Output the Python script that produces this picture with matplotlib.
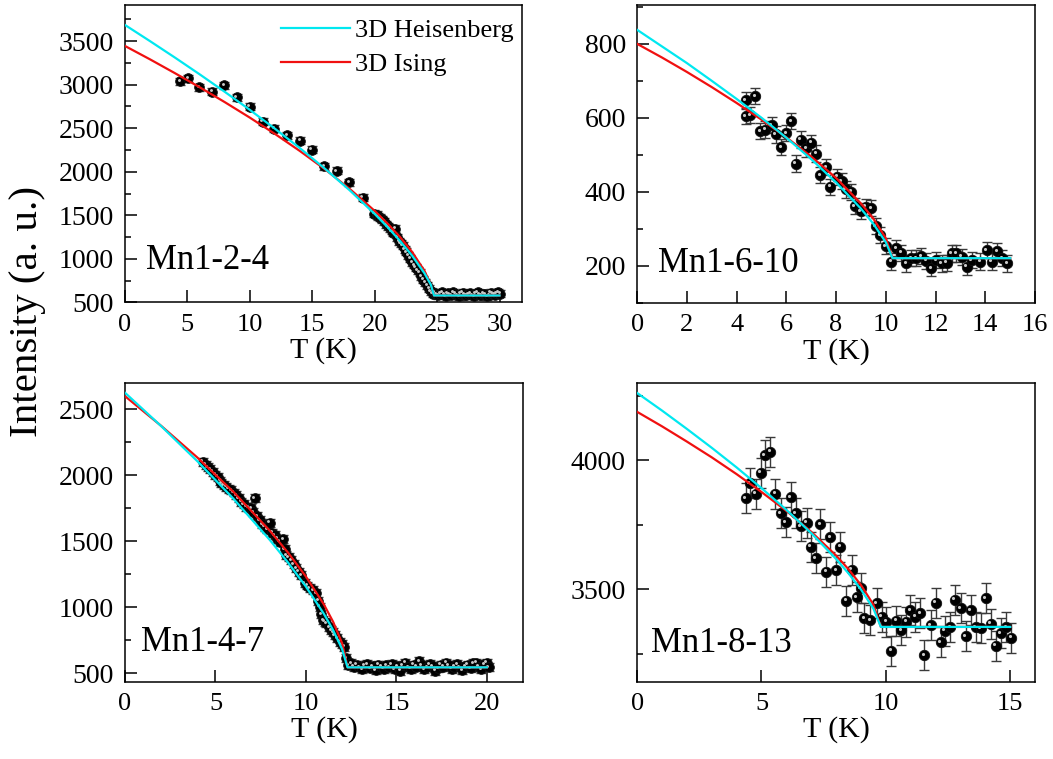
import matplotlib
matplotlib.use('Agg')
import matplotlib.pyplot as plt
from matplotlib.ticker import MultipleLocator, AutoMinorLocator
from matplotlib.transforms import offset_copy

plt.rcParams['font.family'] = ['Liberation Serif', 'DejaVu Serif']

# ---- Mn1-2-4 ----
t1 = [4.4, 5.05, 5.94, 6.98, 7.97, 8.94, 10.0, 11.03, 11.94, 13.0, 14.03, 14.96, 15.95, 16.97,
      17.94, 19.04, 19.98,
      20.15, 20.3, 20.45, 20.6, 20.75, 20.9, 21.05, 21.2, 21.35, 21.5, 21.65, 21.8, 21.95, 22.1,
      22.25, 22.4, 22.55, 22.7, 22.85, 23.0, 23.15, 23.3, 23.45, 23.6, 23.75, 23.9, 24.05, 24.2,
      24.35, 24.5, 24.65,
      24.8, 24.95, 25.1, 25.25, 25.4, 25.55, 25.7, 25.85, 26.0, 26.15, 26.3, 26.45, 26.6, 26.75,
      26.9, 27.05, 27.2, 27.35, 27.5, 27.65, 27.8, 27.95, 28.1, 28.25, 28.4, 28.55, 28.7, 28.85,
      29.0, 29.15, 29.3, 29.45, 29.6, 29.75, 29.9, 30.05]
i1 = [3040, 3071, 2968, 2917, 2994, 2853, 2745, 2573, 2496, 2420, 2354, 2255, 2063, 2009,
      1879, 1703, 1519,
      1505, 1490, 1470, 1455, 1430, 1400, 1375, 1350, 1320, 1300, 1345, 1250, 1200, 1180,
      1150, 1110, 1080, 1040, 1000, 960, 930, 900, 870, 840, 800, 760, 730, 695,
      660, 630, 600,
      610, 595, 585, 600, 620, 590, 575, 605, 595, 580, 615, 600, 585, 570,
      600, 610, 590, 580, 595, 605, 585, 575, 600, 615, 590, 580, 600, 595,
      570, 585, 610, 600, 590, 605, 620, 600]
err1 = 40
t1_heis = [0, 2, 4, 6, 8, 10, 12, 14, 16, 18, 20, 21, 22, 23, 24, 24.5, 24.75, 30]
i1_heis = [3684, 3499, 3310, 3116, 2916, 2710, 2495, 2272, 2037, 1787, 1516, 1369, 1212, 1037,
           833, 704, 580, 580]
t1_ising = [0, 2, 4, 6, 8, 10, 12, 14, 16, 18, 20, 21, 22, 23, 24, 24.5, 24.75, 30]
i1_ising = [3443, 3290, 3131, 2968, 2798, 2621, 2435, 2239, 2030, 1803, 1551, 1410, 1256, 1080,
            860, 704, 580, 580]

# ---- Mn1-6-10 ----
t2 = [4.37, 4.37, 4.55, 4.76, 4.96, 5.16, 5.41, 5.58, 5.79, 5.99, 6.19, 6.38, 6.58, 6.80, 7.00,
      7.20, 7.37, 7.61, 7.77, 8.04, 8.22, 8.38, 8.61, 8.75, 8.99, 9.19, 9.40, 9.60, 9.77, 10.0,
      10.21, 10.41, 10.61, 10.82, 11.02, 11.22, 11.42, 11.63, 11.83, 12.03, 12.24, 12.44, 12.64,
      12.84, 13.05, 13.25, 13.45, 13.79, 14.06, 14.26, 14.47, 14.67, 14.87]
i2 = [647, 604, 607, 659, 564, 568, 580, 555, 521, 559, 591, 476, 541, 517, 532,
      503, 445, 467, 413, 440, 429, 406, 400, 361, 348, 359, 355, 307, 283, 253,
      211, 247, 235, 206, 220, 220, 226, 213, 193, 215, 206, 208, 233,
      233, 224, 197, 215, 211, 242, 211, 239, 220, 206]
err2 = 22
t2_heis = [0, 1, 2, 3, 4, 5, 6, 7, 8, 9, 9.5, 10, 10.27, 15]
i2_heis = [838, 793, 748, 700, 651, 600, 546, 488, 425, 354, 313, 263, 220, 220]
t2_ising = [0, 1, 2, 3, 4, 5, 6, 7, 8, 9, 9.5, 10, 10.27, 15]
i2_ising = [800, 763, 724, 683, 640, 595, 547, 495, 437, 368, 327, 274, 220, 220]

# ---- Mn1-4-7 ----
t3 = [4.30, 4.45, 4.58, 4.72, 4.85, 5.0, 5.13, 5.25, 5.31, 5.45, 5.59, 5.73, 5.87, 6.0, 6.14,
      6.28, 6.42, 6.56, 6.70, 6.83, 6.97, 7.1, 7.16, 7.3, 7.44, 7.58, 7.72, 7.86, 7.99, 8.13,
      8.27, 8.41, 8.55, 8.73, 8.82, 8.92, 9.05, 9.19, 9.33, 9.47, 9.61, 9.75, 9.93, 10.07,
      10.21, 10.4, 10.58, 10.67, 10.76, 10.85, 10.95, 11.04, 11.13, 11.27, 11.41, 11.5, 11.6,
      11.73, 11.87, 12.0, 12.1, 12.24,
      12.35, 12.5, 12.65, 12.8, 12.95, 13.1, 13.25, 13.4, 13.55, 13.7, 13.85, 14.0, 14.15,
      14.3, 14.45, 14.6, 14.75, 14.9, 15.05, 15.2, 15.35, 15.5, 15.65, 15.8, 15.95, 16.1,
      16.25, 16.4, 16.55, 16.7, 16.85, 17.0, 17.15, 17.3, 17.45, 17.6, 17.75, 17.9, 18.05,
      18.2, 18.35, 18.5, 18.65, 18.8, 18.95, 19.1, 19.25, 19.4, 19.55, 19.7, 19.85, 20.0, 20.1]
i3 = [2103, 2080, 2061, 2045, 2027, 2005, 1990, 1960, 1939, 1925, 1914, 1900, 1889, 1870, 1851,
      1825, 1800, 1780, 1762, 1755, 1750, 1720, 1826, 1690, 1661, 1630, 1611, 1590, 1641, 1565,
      1548, 1520, 1497, 1515, 1440, 1396, 1380, 1358, 1325, 1295, 1270, 1245, 1182, 1165,
      1144, 1131, 1106, 1050, 1005, 950, 904, 890, 879, 850, 828, 810, 790,
      765, 740, 720, 702, 614,
      560, 575, 550, 565, 545, 530, 560, 570, 540, 555, 525, 565, 550,
      535, 560, 545, 570, 530, 555, 520, 560, 580, 545, 535, 565, 550,
      590, 560, 530, 545, 570, 555, 520, 540, 565, 550, 580, 560, 535,
      550, 570, 545, 525, 555, 565, 540, 575, 580, 550, 530, 570, 580, 545]
err3 = 30
t3_heis = [0, 2, 4, 6, 8, 9, 10, 11, 11.5, 12, 12.3, 20]
i3_heis = [2626, 2373, 2107, 1822, 1511, 1341, 1157, 949, 828, 683, 545, 545]
t3_ising = [0, 2, 4, 6, 8, 9, 10, 11, 11.5, 12, 12.3, 20]
i3_ising = [2600, 2375, 2135, 1874, 1581, 1416, 1233, 1020, 891, 728, 545, 545]

# ---- Mn1-8-13 ----
t4 = [4.37, 4.53, 4.77, 4.97, 5.13, 5.34, 5.56, 5.77, 5.98, 6.18, 6.37, 6.57, 6.82, 6.98, 7.18,
      7.36, 7.60, 7.76, 8.00, 8.16, 8.40, 8.63, 8.83, 8.99, 9.14, 9.37, 9.64, 9.84, 10.02,
      10.21, 10.41, 10.61, 10.81, 10.99, 11.19, 11.39, 11.55, 11.80, 12.00, 12.20, 12.36,
      12.58, 12.77, 13.01, 13.21, 13.41, 13.61, 13.82, 14.02, 14.22, 14.42, 14.62, 14.83, 15.03]
i4 = [3852, 3910, 3871, 3951, 4019, 4032, 3871, 3794, 3761, 3856, 3796, 3745, 3758, 3665, 3620,
      3753, 3568, 3703, 3575, 3665, 3456, 3577, 3471, 3504, 3388, 3381, 3446, 3394, 3375,
      3263, 3379, 3343, 3375, 3420, 3394, 3407, 3246, 3362, 3448, 3297, 3340,
      3355, 3461, 3427, 3319, 3420, 3355, 3349, 3465, 3368, 3282, 3330, 3355, 3314]
err4 = 58
t4_heis = [0, 1, 2, 3, 4, 5, 6, 7, 8, 8.5, 9, 9.5, 9.8, 15]
i4_heis = [4260, 4192, 4121, 4048, 3972, 3892, 3808, 3718, 3618, 3562, 3500, 3426, 3355, 3355]
t4_ising = [0, 1, 2, 3, 4, 5, 6, 7, 8, 8.5, 9, 9.5, 9.8, 15]
i4_ising = [4187, 4131, 4072, 4011, 3946, 3877, 3804, 3723, 3631, 3578, 3517, 3441, 3355, 3355]

CYAN = '#00E8F0'
RED = '#F01010'

fig = plt.figure(figsize=(10.53, 7.59), dpi=100)


def draw_panel(rect, t, i, err, th, ih, ti, ii, name, name_pos, xlim, ylim, xstep, ystep, ms):
    ax = fig.add_axes(rect)
    # data with error bars --> black spheres
    ax.errorbar(t, i, yerr=err, fmt='none', ecolor='#3a3a3a', elinewidth=1.0, capsize=3.5,
                capthick=1.0, zorder=2)
    ax.plot(t, i, 'o', color='black', ms=ms, mec='#111111', mew=0.6, zorder=3)
    # small grey highlight --> sphere look
    hl = offset_copy(ax.transData, fig=fig, x=-1.0, y=1.0, units='points')
    ax.plot(t, i, 'o', color='#c8c8c8', ms=ms * 0.3, mew=0, transform=hl, zorder=4)
    # fits
    ax.plot(th, ih, color=CYAN, lw=1.6, label='3D Heisenberg', zorder=6)
    ax.plot(ti, ii, color=RED, lw=1.6, label='3D Ising', zorder=5)

    ax.set_xlim(*xlim)
    ax.set_ylim(*ylim)
    ax.xaxis.set_major_locator(MultipleLocator(xstep))
    ax.yaxis.set_major_locator(MultipleLocator(ystep))
    ax.yaxis.set_minor_locator(AutoMinorLocator(2))
    ax.tick_params(axis='both', which='major', direction='in', length=8.5, width=1.1,
                   top=False, right=False)
    ax.tick_params(axis='y', which='minor', direction='in', length=4.5, width=1.1,
                   right=False)
    ax.tick_params(axis='x', labelsize=19, pad=8)
    ax.tick_params(axis='y', labelsize=20, pad=8)
    for sp in ax.spines.values():
        sp.set_linewidth(1.1)
    ax.set_xlabel('T (K)', fontsize=21.5, labelpad=1)
    ax.text(name_pos[0], name_pos[1], name, transform=ax.transAxes, fontsize=25,
            ha='left', va='baseline')
    return ax


ax1 = draw_panel([0.1187, 0.6015, 0.377, 0.392], t1, i1, err1, t1_heis, i1_heis,
                 t1_ising, i1_ising, 'Mn1-2-4', (0.052, 0.114), (0, 31.8), (500, 3914),
                 5, 500, 7)
ax2 = draw_panel([0.605, 0.6004, 0.378, 0.393], t2, i2, err2, t2_heis, i2_heis,
                 t2_ising, i2_ising, 'Mn1-6-10', (0.053, 0.106), (0, 16), (98, 905),
                 2, 200, 7.5)
ax3 = draw_panel([0.1187, 0.1018, 0.378, 0.3931], t3, i3, err3, t3_heis, i3_heis,
                 t3_ising, i3_ising, 'Mn1-4-7', (0.040, 0.104), (0, 22), (436, 2697),
                 5, 500, 7)
ax4 = draw_panel([0.605, 0.1018, 0.378, 0.3931], t4, i4, err4, t4_heis, i4_heis,
                 t4_ising, i4_ising, 'Mn1-8-13', (0.034, 0.10), (0, 16), (3143, 4297),
                 5, 500, 7.5)

# legend only in first panel
ax1.legend(loc='upper left', bbox_to_anchor=(0.394, 0.955), frameon=False, fontsize=19,
           handlelength=2.6, handletextpad=0.2, labelspacing=0.4, borderpad=0,
           borderaxespad=0)

fig.text(0.026, 0.589, 'Intensity (a. u.)', rotation=90, fontsize=29.5, ha='center',
         va='center')

fig.savefig('out.png', dpi=100)
